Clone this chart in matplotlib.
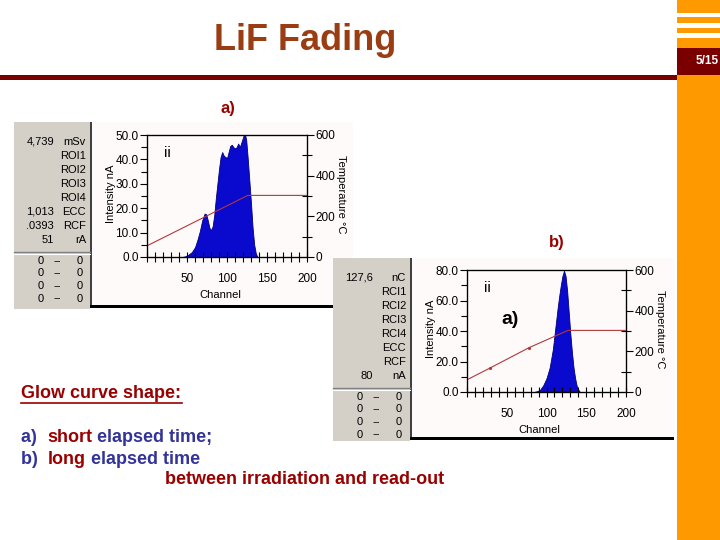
import matplotlib
matplotlib.use("Agg")
import matplotlib.pyplot as plt
from matplotlib.patches import Rectangle
from matplotlib.ticker import MultipleLocator, FixedLocator, FormatStrFormatter

# glow curve 1 (top screenshot)
glow1_ch = [44, 48, 52, 56, 60, 63, 66, 69, 72, 74, 76, 78, 80, 82, 84, 86, 88, 90, 92, 94,
            96, 98, 100, 102, 104, 106, 108, 110, 112, 114, 116, 118, 120, 122, 124, 126,
            128, 130, 132, 134, 136, 138]
glow1_na = [0, 0.3, 1.0, 2.0, 4.0, 7.0, 10.5, 15.0, 17.8, 17.5, 15.0, 12.0, 11.0, 12.5, 17.0,
            24.0, 30.0, 36.0, 41.0, 43.0, 41.5, 41.0, 40.5, 43.0, 45.5, 46.0, 45.0, 44.5, 45.0,
            46.5, 45.0, 47.0, 49.0, 51.0, 48.0, 40.0, 31.0, 22.0, 12.0, 5.0, 1.5, 0]
temp1_ch = [0, 126, 200]
temp1_c = [55, 303, 303]

# glow curve 2 (bottom screenshot)
glow2_ch = [84, 88, 92, 96, 100, 104, 108, 110, 112, 114, 116, 118, 120, 122, 124, 126, 128,
            130, 132, 134, 136, 138, 140, 142]
glow2_na = [0, 0.5, 1.5, 4.5, 9, 16, 28, 37, 46, 55, 63, 70, 76, 79.5, 76, 66, 52, 38, 26, 16,
            9, 4, 1.5, 0]
temp2_ch = [0, 29, 78, 127, 200]
temp2_c = [60, 118, 218, 303, 303]

panel1_rows = [("4,739", "mSv"), ("", "ROI1"), ("", "ROI2"), ("", "ROI3"), ("", "ROI4"),
               ("1,013", "ECC"), (".0393", "RCF"), ("51", "rA")]
panel2_rows = [("127,6", "nC"), ("", "RCI1"), ("", "RCI2"), ("", "RCI3"), ("", "RCI4"),
               ("", "ECC"), ("", "RCF"), ("80", "nA")]

NARROW = ["Liberation Sans", "DejaVu Sans"]
SANS = ["Liberation Sans", "DejaVu Sans"]
FS = 8
GRAY = "#D4D0C8"
PLOTBG = "#FFFAFA"
DARKRED = "#7A0000"
ORANGE = "#FF9900"

W, H = 720, 540
fig = plt.figure(figsize=(7.2, 5.4), dpi=100)
bg = fig.add_axes([0, 0, 1, 1])
bg.set_xlim(0, W)
bg.set_ylim(H, 0)
bg.axis("off")


def rect(x0, y0, x1, y1, color, z=1):
    bg.add_patch(Rectangle((x0, y0), x1 - x0, y1 - y0, color=color, lw=0, zorder=z))


# slide decoration
rect(677, 0, 720, 540, ORANGE)
for y0, y1 in [(13, 17), (23, 28), (33, 38)]:
    rect(677, y0, 720, y1, "white", 2)
rect(677, 48, 720, 75, DARKRED, 2)
rect(0, 75, 677, 80, DARKRED, 2)
bg.text(707, 61, "5/15", color="white", fontsize=8.5, fontweight="bold", family=SANS,
        ha="center", va="center", zorder=3)
bg.text(305, 41, "LiF Fading", color="#9A3D12", fontsize=26, fontweight="bold", family=SANS,
        ha="center", va="center")
bg.text(228, 108, "a)", color="#990000", fontsize=12, fontweight="bold", family=SANS,
        ha="center", va="center")
bg.text(557, 243, "b)", color="#990000", fontsize=12, fontweight="bold", family=SANS,
        ha="center", va="center")


def screenshot(gx0, gx1, y0, wx1, y1, rows, z):
    # gray side panel, dark border, white plot area, black bottom line
    rect(gx0, y0, gx1, y1 + 4, GRAY, z)
    rect(gx1, y0, gx1 + 2, y1 + 2, "#404040", z)
    rect(gx1 + 2, y0, wx1, y1, PLOTBG, z)
    rect(gx1, y1, wx1, y1 + 3, "black", z)
    for i, (num, unit) in enumerate(rows):
        yy = y0 + 20 + i * 14
        bg.text(gx0 + 40, yy, num, family=NARROW, fontsize=FS, ha="right", va="center", zorder=z)
        bg.text(gx1 - 4, yy, unit, family=NARROW, fontsize=FS, ha="right", va="center", zorder=z)
    sep = y0 + 130
    bg.plot([gx0, gx1], [sep, sep], color="#808080", lw=1, zorder=z)
    bg.plot([gx0, gx1], [sep + 1.5, sep + 1.5], color="white", lw=0.8, zorder=z)
    for i in range(4):
        yy = sep + 9 + i * 12.5
        bg.text(gx0 + 27, yy, "0", family=NARROW, fontsize=FS, ha="center", va="center", zorder=z)
        bg.text(gx0 + 43, yy, "--", family=NARROW, fontsize=FS, ha="center", va="center", zorder=z)
        bg.text(gx0 + 66, yy, "0", family=NARROW, fontsize=FS, ha="center", va="center", zorder=z)


screenshot(14, 90, 122, 353, 305, panel1_rows, 3)
screenshot(333, 410, 258, 674, 437, panel2_rows, 4)


def chart(x0, y0, x1, y1, ch, na, tch, tc, ymax, ystep, yminor, marks):
    ax = fig.add_axes([x0 / W, 1 - y1 / H, (x1 - x0) / W, (y1 - y0) / H])
    ax.set_facecolor("none")
    ax.fill_between(ch, na, color="#0A0ACF", edgecolor="#00007A", lw=0.6)
    ax.set_xlim(0, 200)
    ax.set_ylim(0, ymax)
    ax.xaxis.set_major_locator(FixedLocator([50, 100, 150, 200]))
    ax.xaxis.set_minor_locator(MultipleLocator(10))
    ax.yaxis.set_major_locator(MultipleLocator(ystep))
    ax.yaxis.set_minor_locator(MultipleLocator(yminor))
    ax.yaxis.set_major_formatter(FormatStrFormatter("%.1f"))
    ax.tick_params(axis="x", which="both", direction="inout", length=7, width=0.8, pad=8,
                   labelsize=FS + 0.5)
    ax.tick_params(axis="y", which="major", direction="out", length=5, width=0.8, pad=1,
                   labelsize=FS + 0.5)
    ax.tick_params(axis="y", which="minor", direction="out", length=4, width=0.8)
    for lab in ax.get_xticklabels() + ax.get_yticklabels():
        lab.set_family(NARROW)
    for s in ax.spines.values():
        s.set_linewidth(0.9)
    tx = ax.twinx()
    tx.plot(tch, tc, color="#B03838", lw=0.8, marker=".", markersize=2.5, markevery=marks)
    tx.set_ylim(0, 600)
    tx.yaxis.set_major_locator(MultipleLocator(200))
    tx.yaxis.set_minor_locator(MultipleLocator(100))
    tx.tick_params(axis="y", which="major", direction="out", length=5, width=0.8, pad=1,
                   labelsize=FS + 0.5)
    tx.tick_params(axis="y", which="minor", direction="inout", length=7, width=0.8)
    for lab in tx.get_yticklabels():
        lab.set_family(NARROW)
    # axis titles in slide pixels
    bg.text(x0 - 36, (y0 + y1) / 2 - 2, "Intensity nA", rotation=90, family=NARROW,
            fontsize=FS, ha="center", va="center", zorder=5)
    bg.text(x1 + 34, (y0 + y1) / 2 - 2, "Temperature °C", rotation=270, family=NARROW,
            fontsize=FS, ha="center", va="center", zorder=5)
    bg.text((x0 + x1) / 2 - 7, y1 + 38, "Channel", family=NARROW, fontsize=FS,
            ha="center", va="center", zorder=5)
    bg.text(x0 + 20, y0 + 18, "ii", family=NARROW, fontsize=11, ha="center", va="center",
            zorder=5)
    return ax


chart(147, 135, 307, 257, glow1_ch, glow1_na, temp1_ch, temp1_c, 50, 10, 5, [])
chart(467, 270, 626, 392, glow2_ch, glow2_na, temp2_ch, temp2_c, 80, 20, 10, [1, 2])
bg.text(510, 320, "a)", fontsize=14, fontweight="bold", family=SANS, ha="center",
        va="center", zorder=5)

# explanation text
RED = "#990000"
NAVY = "#333399"
bg.text(21, 394, "Glow curve shape:", color=RED, fontsize=13, fontweight="bold",
        family=SANS, ha="left", va="center")
bg.plot([21, 182], [403, 403], color=RED, lw=1.2)
for yy, parts in [(437, [("a)  ", NAVY), ("short", RED), (" elapsed time;", NAVY)]),
                  (459, [("b)  ", NAVY), ("long", RED), (" elapsed time", NAVY)])]:
    t = bg.text(21, yy, parts[0][0], color=parts[0][1], fontsize=13, fontweight="bold",
                family=SANS, ha="left", va="center")
    for s, c in parts[1:]:
        t = bg.annotate(s, xycoords=t, xy=(1, 0), va="bottom", ha="left", color=c,
                        fontsize=13, fontweight="bold", family=SANS)
bg.text(165, 480, "between irradiation and read-out", color=RED, fontsize=13,
        fontweight="bold", family=SANS, ha="left", va="center")

fig.savefig("out.png", dpi=100)
